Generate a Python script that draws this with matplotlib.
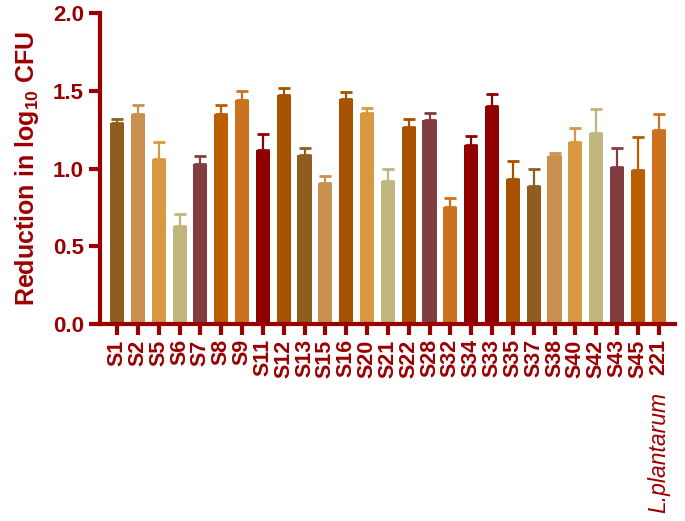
import matplotlib.pyplot as plt
import numpy as np

plt.rcParams['font.family'] = ['Liberation Sans', 'DejaVu Sans']
plt.rcParams['mathtext.fontset'] = 'custom'
plt.rcParams['mathtext.rm'] = 'Liberation Sans:bold'
plt.rcParams['mathtext.bf'] = 'Liberation Sans:bold'

# data
strains = ['S1', 'S2', 'S5', 'S6', 'S7', 'S8', 'S9', 'S11', 'S12', 'S13', 'S15',
           'S16', 'S20', 'S21', 'S22', 'S28', 'S32', 'S34', 'S33', 'S35', 'S37',
           'S38', 'S40', 'S42', 'S43', 'S45', '221']
ref_species = 'L.plantarum'
reduction = [1.29, 1.35, 1.06, 0.63, 1.03, 1.35, 1.44, 1.12, 1.47, 1.09, 0.91,
             1.45, 1.36, 0.92, 1.27, 1.31, 0.75, 1.15, 1.40, 0.93, 0.89,
             1.08, 1.17, 1.23, 1.01, 0.99, 1.25]
err = [0.03, 0.06, 0.11, 0.08, 0.05, 0.06, 0.06, 0.10, 0.05, 0.04, 0.04,
       0.04, 0.03, 0.08, 0.05, 0.05, 0.06, 0.06, 0.08, 0.12, 0.11,
       0.02, 0.09, 0.15, 0.12, 0.21, 0.10]
colors = ['#8F5E1E', '#C8914F', '#D89840', '#C0B57A', '#813D3F', '#BA5E00', '#CC721E',
          '#900000', '#A65200', '#8F5E1E', '#C8914F', '#A65200', '#D89840', '#C0B57A',
          '#A65200', '#813D3F', '#CC721E', '#900000', '#900000', '#A65200', '#8F5E1E',
          '#C8914F', '#D89840', '#C0B57A', '#813D3F', '#BA5E00', '#CC721E']

axis_col = '#9B0000'

fig = plt.figure(figsize=(6.85, 5.21), dpi=100)
ax = fig.add_axes([0.146, 0.378, 0.839, 0.597])

x = np.arange(len(strains))
ax.bar(x, reduction, width=0.68, color=colors, zorder=2)
for xi, v, e, c in zip(x, reduction, err, colors):
    ax.errorbar(xi, v, yerr=[[0], [e]], fmt='none', ecolor=c, elinewidth=1.6,
                capsize=4, capthick=2, zorder=1)

ax.set_xlim(-0.82, 26.77)
ax.set_ylim(0, 2.0)
ax.set_yticks([0, 0.5, 1.0, 1.5, 2.0])
ax.set_yticklabels(['0.0', '0.5', '1.0', '1.5', '2.0'])
ax.set_xticks(x)
ax.set_xticklabels(strains, rotation=90)

ax.spines['top'].set_visible(False)
ax.spines['right'].set_visible(False)
for s in ['left', 'bottom']:
    ax.spines[s].set_color(axis_col)
    ax.spines[s].set_linewidth(3)
ax.tick_params(axis='both', colors=axis_col, width=3, length=8, labelsize=16)
ax.tick_params(axis='x', labelsize=15.5, pad=3)
for lab in ax.get_xticklabels() + ax.get_yticklabels():
    lab.set_fontweight('bold')
    lab.set_color(axis_col)

# italic species name below the last tick label
ax.annotate(ref_species, xy=(x[-1], 0), xycoords=('data', 'axes fraction'),
            xytext=(0, -49), textcoords='offset points', rotation=90,
            ha='center', va='top', fontsize=16.5, style='italic',
            color=axis_col, annotation_clip=False)

ax.set_ylabel(r'Reduction in log$_{\mathbf{10}}$ CFU', fontsize=18, fontweight='bold',
              color=axis_col, labelpad=9)

fig.savefig('out.png', dpi=100)
